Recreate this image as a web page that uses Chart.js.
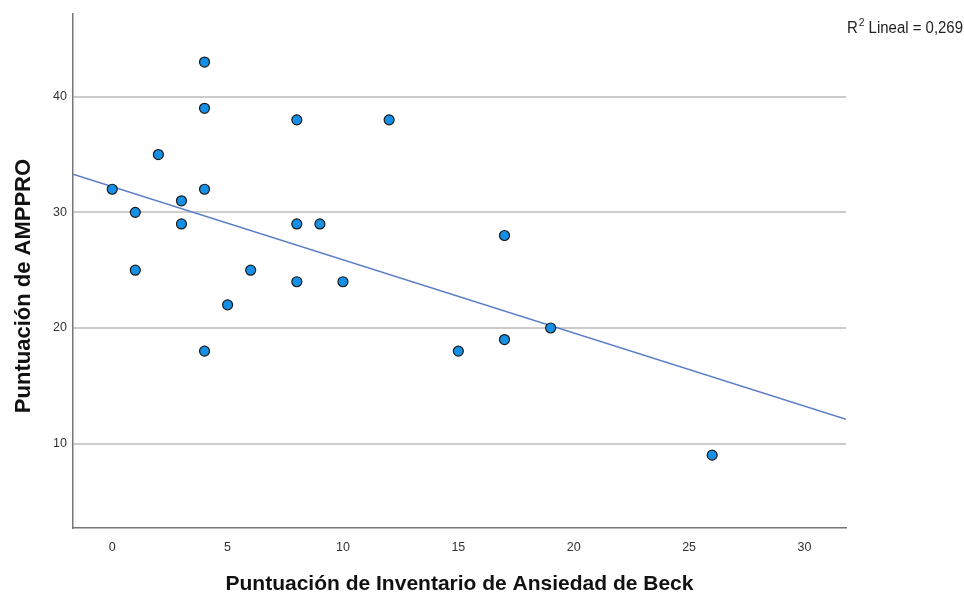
<!DOCTYPE html>
<html>
<head>
<meta charset="utf-8">
<script src="https://cdn.jsdelivr.net/npm/chart.js@4/dist/chart.umd.min.js"></script>
<style>
  html, body { margin: 0; padding: 0; background: #fff; }
  #wrap { width: 964px; height: 597px; position: relative; }
</style>
</head>
<body>
<div id="wrap"><canvas id="scatterChart"></canvas></div>
<script>
// Beck anxiety score (x) vs AMPPRO score (y)
const beckScores = [4, 4, 8, 12, 2, 0, 4, 3, 1, 3, 8, 9, 17, 1, 6, 8, 10, 5, 4, 15, 17, 19, 26];
const ampproScores = [43, 39, 38, 38, 35, 32, 32, 31, 30, 29, 29, 29, 28, 25, 25, 24, 24, 22, 18, 18, 19, 20, 9];

// fit line end points
const fitX = [-1.7, 31.8];
const fitY = [33.3, 12.1];

const xTicks = [0, 5, 10, 15, 20, 25, 30];
const yTicks = [10, 20, 30, 40];
const r2Label = ['R', '2', ' Lineal = 0,269'];

const tickFont = { family: 'Liberation Sans, Arial', size: 12.5 };

// R2 annotation at the top right (squeezed a bit like the narrow font of the original)
const r2Plugin = {
    id: 'r2Label',
    afterDraw(chart) {
        const ctx = chart.ctx;
        const big = '16px "Liberation Sans", Arial';
        const small = '11px "Liberation Sans", Arial';
        ctx.save();
        ctx.font = big;
        let w = ctx.measureText(r2Label[0]).width + ctx.measureText(r2Label[2]).width + 1;
        ctx.font = small;
        w += ctx.measureText(r2Label[1]).width;
        const sx = 116 / w;
        ctx.translate(chart.chartArea.right + 1, 33);
        ctx.scale(sx, 1);
        ctx.fillStyle = '#222';
        ctx.textBaseline = 'alphabetic';
        let x = 0;
        ctx.font = big;
        ctx.fillText(r2Label[0], x, 0);
        x += ctx.measureText(r2Label[0]).width + 1;
        ctx.font = small;
        ctx.fillText(r2Label[1], x, -7);
        x += ctx.measureText(r2Label[1]).width;
        ctx.font = big;
        ctx.fillText(r2Label[2], x, 0);
        ctx.restore();
    }
};

const ctx = document.getElementById('scatterChart');

new Chart(ctx, {
    type: 'scatter',
    data: {
        datasets: [
            {
                type: 'line',
                label: 'Lineal',
                data: fitX.map((x, i) => ({ x: x, y: fitY[i] })),
                borderColor: '#5b7cc9',
                borderWidth: 1.5,
                pointRadius: 0,
                fill: false,
                order: 2
            },
            {
                label: 'AMPPRO',
                data: beckScores.map((x, i) => ({ x: x, y: ampproScores[i] })),
                backgroundColor: '#1590e6',
                borderColor: '#1a1a1a',
                borderWidth: 1.2,
                pointRadius: 5,
                order: 1
            }
        ]
    },
    options: {
        responsive: true,
        maintainAspectRatio: false,
        animation: false,
        devicePixelRatio: 1,
        layout: {
            padding: { left: 0, right: 118, top: 12, bottom: 0 }
        },
        plugins: {
            legend: { display: false },
            tooltip: { enabled: false }
        },
        scales: {
            x: {
                type: 'linear',
                min: -1.7,
                max: 31.8,
                afterFit: (scale) => { scale.height = 69; },
                afterBuildTicks: (scale) => { scale.ticks = xTicks.map(v => ({ value: v })); },
                grid: { display: false, drawTicks: false },
                border: { display: true, color: '#777', width: 1.5 },
                ticks: {
                    color: '#333',
                    font: tickFont,
                    padding: 12
                },
                title: {
                    display: true,
                    text: 'Puntuación de Inventario de Ansiedad de Beck',
                    color: '#111',
                    font: { family: 'Liberation Sans, Arial', size: 21, weight: 'bold' },
                    padding: { top: 0, bottom: 0 }
                }
            },
            y: {
                type: 'linear',
                min: 2.7,
                max: 47.2,
                afterFit: (scale) => { scale.width = 73; },
                afterBuildTicks: (scale) => { scale.ticks = yTicks.map(v => ({ value: v })); },
                grid: { color: '#cccccc', lineWidth: 2, drawTicks: false },
                border: { display: true, color: '#777', width: 1.5 },
                ticks: {
                    color: '#333',
                    font: tickFont,
                    padding: 6
                },
                title: {
                    display: true,
                    // trailing spaces push the centred title down a little, as in the original
                    text: 'Puntuación de AMPPRO\u00a0\u00a0\u00a0\u00a0\u00a0',
                    color: '#111',
                    font: { family: 'Liberation Sans, Arial', size: 22, weight: 'bold' },
                    padding: { top: 11, bottom: 0 }
                }
            }
        }
    },
    plugins: [r2Plugin]
});
</script>
</body>
</html>
